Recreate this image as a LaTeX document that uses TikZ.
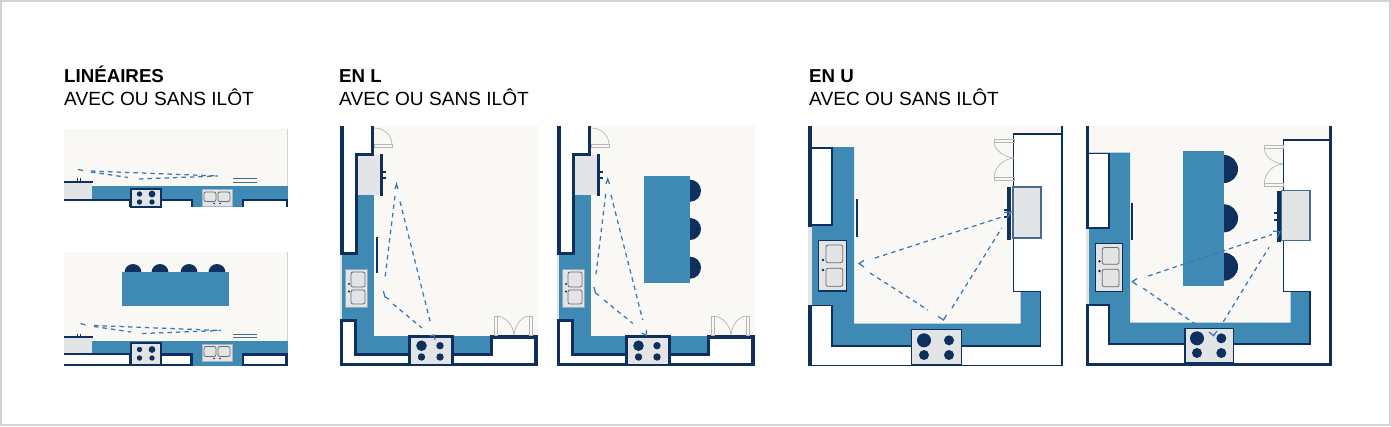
\documentclass[tikz,border=0pt]{standalone}
\usepackage{fontspec}
\setmainfont{Liberation Sans}
\definecolor{cream}{HTML}{F9F8F5}
\definecolor{cblue}{HTML}{3F8AB5}
\definecolor{navy}{HTML}{0F2F5C}
\definecolor{steel}{HTML}{4A6A8C}
\definecolor{appl}{HTML}{E3E4E6}
\definecolor{dashc}{HTML}{3C78B0}
\definecolor{doorc}{HTML}{B4B6B8}
\definecolor{frame}{HTML}{D2D2D2}
\tikzset{
  wall/.style={draw=navy,line width=#1,line cap=butt,line join=miter},
  wall/.default=2.5,
  counter/.style={fill=cblue,draw=none},
  floorarea/.style={fill=cream,draw=none},
  cab/.style={fill=white,draw=none},
  appliance/.style={fill=appl,draw=navy,line width=2.2},
  appliancethin/.style={fill=appl,draw=navy,line width=1.4},
  sinkbox/.style={fill=appl,draw=navy,line width=1.4},
  basin/.style={fill=appl,draw=gray!85!black,line width=.8,rounded corners=2},
  burner/.style={fill=navy,draw=none},
  walk/.style={draw=dashc,line width=1.25,dash pattern=on 4.5pt off 4pt},
  vhead/.style={draw=dashc,line width=1.25,line join=miter},
  door/.style={draw=doorc,line width=.7},
  stool/.style={fill=navy,draw=none},
  head/.style={anchor=base west,inner sep=0,font=\fontsize{18.7}{20}\selectfont\bfseries},
  sub/.style={anchor=base west,inner sep=0,font=\fontsize{19.1}{20}\selectfont},
}
\begin{document}
\begin{tikzpicture}[x=1pt,y=-1pt]
\useasboundingbox (0,0) rectangle (1391,426);
\fill[white] (0,0) rectangle (1391,426);
\draw[frame,line width=2] (1,1) rectangle (1390,425);
% titles
\node[head] (t1) at (64,82) {LINÉAIRES};
\node[sub] (s1) at (64,105) {AVEC OU SANS ILÔT};
\node[head] (t2) at (339,82) {EN L};
\node[sub] (s2) at (339,105) {AVEC OU SANS ILÔT};
\node[head] (t3) at (809,82) {EN U};
\node[sub] (s3) at (809,105) {AVEC OU SANS ILÔT};

% ===== Panel A =====
\fill[floorarea] (64,129) rectangle (287.5,186);
\draw[doorc!60,line width=.6] (287.5,129) -- (287.5,186);
\fill[counter] (64,185.5) rectangle (287.5,207);
\fill[appl] (64,183) rectangle (92,199);
\fill[cab] (64,200) rectangle (131,207);
\draw[wall=2] (64,199.5) -- (130,199.5) -- (130,207);
\draw[wall=2] (64,181.5) -- (93,181.5);
\draw[wall=.9] (77,178) -- (77,181) (80,178) -- (80,181);
\fill[cab] (162,200) rectangle (192,207);
\draw[wall=2] (162,199.5) -- (191.5,199.5) -- (191.5,207);
\fill[cab] (243,200) rectangle (287,207);
\draw[wall=2] (243,207) -- (243,200) -- (286.5,200) -- (286.5,207);
\draw[appliance] (131,189) rectangle (161,207);
\foreach \p/\r in {139.5/2.7,152/3.4} \fill[burner] (\p,194) circle [radius=\r];
\foreach \p in {139.5,152} \fill[burner] (\p,202) circle [radius=2.7];
\fill[appl,draw=steel!50,line width=.6] (202,189) rectangle (232,206);
\draw[basin] (204,192) rectangle (216,201.5);
\draw[basin] (218,192) rectangle (230,201.5);
\fill[navy] (214,203.5) circle [radius=.9] (220,203.5) circle [radius=.9];
\draw[steel,line width=1] (233,178.7) -- (257,178.7) (233,182.2) -- (257,182.2);
\draw[vhead] (78,169.5) -- (83,170.5);
\draw[walk] (91,171) -- (218,176);
\draw[walk] (91,172) -- (128,177.5);
\draw[walk] (139,179) -- (218,176);

% ===== Panel B =====
\fill[floorarea] (64,252) rectangle (287.5,342);
\draw[doorc!60,line width=.6] (287.5,252) -- (287.5,342);
\foreach \p in {133,160,189,217} \fill[stool] (\p,272.5) circle [radius=8.5];
\fill[counter] (122,272) rectangle (228.5,306);
\fill[counter] (64,340.7) rectangle (287.5,366);
\fill[appl] (64,338) rectangle (92,353);
\fill[cab] (64,354) rectangle (131,365);
\draw[wall=2.4] (64,354) -- (130,354) -- (130,365) -- (64,365);
\draw[wall=2] (64,336.5) -- (93,336.5);
\draw[wall=.9] (77,334) -- (77,336) (80,334) -- (80,336);
\fill[cab] (162,355) rectangle (192,365);
\draw[wall=2.4] (162,354.5) -- (191.5,354.5) -- (191.5,365) -- (162,365);
\fill[cab] (243,355) rectangle (287,365);
\draw[wall=2.4] (243,354.5) rectangle (286.5,365);
\draw[appliance] (131,343) rectangle (161,365);
\foreach \p/\r in {139.5/2.7,152/3.4} \fill[burner] (\p,349.5) circle [radius=\r];
\foreach \p in {139.5,152} \fill[burner] (\p,358) circle [radius=2.7];
\fill[appl,draw=steel!50,line width=.6] (202,344) rectangle (232,361);
\draw[basin] (204,346.5) rectangle (216,356.5);
\draw[basin] (218,346.5) rectangle (230,356.5);
\fill[navy] (214,358.5) circle [radius=.9] (220,358.5) circle [radius=.9];
\draw[steel,line width=1] (233,334) -- (257,334) (233,337.5) -- (257,337.5);
\draw[vhead] (80.5,323.5) -- (85.5,325);
\draw[walk] (94,325.5) -- (221,330.5);
\draw[walk] (94,326.5) -- (131,332);
\draw[walk] (142,333.5) -- (221,330.5);

% ===== Panel C and D share walls =====
\foreach \dx/\num in {0/1,217/2}{
\begin{scope}[shift={(\dx,0)}]
  \fill[floorarea] (340,126) rectangle (538,365);
  \fill[cab] (342,126) rectangle (372,153);
  \fill[cab] (342,153) rectangle (356,253);
  \fill[counter] (341.5,252) rectangle (374,336);
  \fill[counter] (358,195) rectangle (374,253);
  \fill[counter] (356,335.7) rectangle (491.5,354);
  \fill[appl] (340,253) rectangle (341.5,320);
  \fill[cab] (342,320) rectangle (356,365);
  \fill[cab] (356,355) rectangle (536,365);
  \fill[cab] (491.5,336.5) rectangle (536,355);
  \fill[appl] (358,155) rectangle (381,195);
  \draw[wall=3.5] (342,126) -- (342,254.5);
  \draw[wall=3] (342,253.5) -- (357.5,253.5);
  \draw[wall=3] (372.5,126) -- (372.5,154) -- (356.7,154) -- (356.7,254);
  \draw[wall=3] (381.7,154) -- (381.7,196);
  \draw[wall=1.5] (383,172) -- (386,172) (383,178) -- (386,178);
  \draw[wall=3.2] (341.5,320.5) -- (355.5,320.5) -- (355.5,354.5) -- (409,354.5);
  \draw[wall=3.2] (341.5,319) -- (341.5,364.5) -- (536,364.5) -- (536,337) -- (491.5,337) -- (491.5,354.5) -- (452,354.5);
  \draw[appliance,line width=2.6] (409.5,336.5) rectangle (452.5,365);
  \fill[burner] (421.5,345.7) circle [radius=5.3];
  \fill[burner] (440,345.7) circle [radius=3.7];
  \fill[burner] (421.5,357) circle [radius=3.7];
  \fill[burner] (440,357) circle [radius=3.7];
  \draw[sinkbox,draw=steel!60,line width=.8] (345.7,269) rectangle (367.7,307);
  \draw[basin] (351,272) rectangle (365,287);
  \draw[basin] (351,290) rectangle (365,304);
  \fill[navy] (349,284) circle [radius=1.1] (349,291.5) circle [radius=1.1];
  % doors
  \draw[door] (374,128) .. controls (384,128) and (392,135) .. (392,145);
  \draw[door] (374,144) rectangle (392,147);
  \draw[door] (494,316) rectangle (497,335);
  \draw[door] (529,316) rectangle (532,335);
  \draw[door] (497,316) .. controls (506,317) and (513,325) .. (514,335);
  \draw[door] (529,316) .. controls (521,317) and (515,325) .. (514,335);
\end{scope}}
% Panel C extras
\draw[wall=2] (376.7,237) -- (376.7,273);
\draw[vhead] (395,189) -- (396.5,184) -- (398,189);
\draw[walk] (395,196) -- (385,278);
\draw[walk] (400,201.5) -- (431,325);
\draw[vhead] (383.3,291) -- (385,297) -- (389,299);
\draw[walk] (393,304) -- (422,328);
\draw[vhead] (430,336) -- (434,335) -- (435,340);
% Panel D extras
\fill[stool] (690,190.7) circle [radius=11];
\fill[stool] (690,229) circle [radius=11];
\fill[stool] (690,267.7) circle [radius=11];
\fill[counter] (644,176) rectangle (690,282.7);
\draw[vhead] (606,184) -- (607.7,179) -- (609.5,184);
\draw[walk] (605.7,194) -- (596,274);
\draw[walk] (611,195) -- (642.7,320);
\draw[vhead] (594,287) -- (595.5,293) -- (599,295.5);
\draw[walk] (604,300) -- (632.7,323.3);
\draw[vhead] (642,333) -- (646,335.5) -- (646.5,330);

% ===== Panel E =====
\fill[floorarea] (808,126) rectangle (1062,365);
\fill[cab] (812,346) rectangle (1061,365);
\fill[cab] (812,305) rectangle (832,346);
\fill[cab] (1014,134) rectangle (1061,292);
\fill[cab] (1041,292) rectangle (1061,346);
\fill[counter] (812,147) -- (854,147) -- (854,323.7) -- (1020.7,323.7) -- (1020.7,291.7) -- (1040.7,291.7) -- (1040.7,346) -- (832,346) -- (832,305.7) -- (808,305.7) -- (808,227) -- (812,227) -- cycle;
\fill[appl] (808,227) rectangle (812,305);
\fill[cab] (812,148) rectangle (832,225);
\draw[wall=1.4] (812,148) -- (832,148) -- (832,225) -- (812,225);
\draw[wall=4] (810,126) -- (810,227);
\draw[wall=4] (810,305) -- (810,366);
\draw[wall=1.4] (808,305.5) -- (832,305.5) -- (832,346) -- (1040.7,346) -- (1040.7,291.7) -- (1013.5,291.7) -- (1013.5,134) -- (1061.5,134);
\draw[wall=1.6] (1061.7,126) -- (1061.7,365.5) -- (808,365.5);
\draw[fill=appl,draw=steel,line width=1.2] (1013,187) rectangle (1041,238);
\draw[wall=4] (1009,186.7) -- (1009,240);
\draw[wall=1.6] (1004,210) -- (1008,210) (1004,217) -- (1008,217);
\draw[wall=2] (857.3,199) -- (857.3,237);
\draw[sinkbox] (818.3,240.7) rectangle (846.7,291);
\draw[basin] (826,245) rectangle (842.7,262.7);
\draw[basin] (826,268.3) rectangle (842.7,286.3);
\fill[navy] (823,260) circle [radius=1.3] (823,270) circle [radius=1.3];
\draw[appliancethin] (911.7,329.3) rectangle (961.3,365);
\fill[burner] (924,340.3) circle [radius=7];
\fill[burner] (949,340.3) circle [radius=5];
\fill[burner] (924,355) circle [radius=5];
\fill[burner] (949,355) circle [radius=5];
\draw[door] (994,139) rectangle (1014,142);
\draw[door] (994,177) rectangle (1014,180);
\draw[door] (994,142) .. controls (995,151) and (1004,157) .. (1014,158);
\draw[door] (994,177) .. controls (995,166) and (1004,159) .. (1014,158);
\draw[vhead] (864,260.5) -- (859,263.5) -- (864,267);
\draw[walk] (875,258) -- (1003,216.7);
\draw[walk] (870,273) -- (928,310);
\draw[vhead] (938,316.5) -- (943.5,320) -- (946.5,315);
\draw[walk] (952,308) -- (1001.7,228);
\draw[vhead] (1004,212.5) -- (1011,212) -- (1007,218);

% ===== Panel F =====
\fill[floorarea] (1086,126) rectangle (1331,365);
\fill[cab] (1089,344) rectangle (1330,365);
\fill[cab] (1089,305) rectangle (1109,344);
\fill[cab] (1283.3,140) rectangle (1330,292);
\fill[cab] (1310,292) rectangle (1330,344);
\fill[counter] (1089,152.7) -- (1130,152.7) -- (1130,322.7) -- (1290.7,322.7) -- (1290.7,291.7) -- (1310,291.7) -- (1310,344) -- (1109,344) -- (1109,305) -- (1087,305) -- (1087,228) -- (1089,228) -- cycle;
\fill[appl] (1086,228) rectangle (1089,305);
\fill[cab] (1089,153.3) rectangle (1109,228);
\draw[wall=1.4] (1089,153.3) -- (1109,153.3) -- (1109,228) -- (1087,228);
\draw[wall=3.5] (1087.5,126) -- (1087.5,229);
\fill[stool] (1224,169) circle [radius=14];
\fill[stool] (1224,218.3) circle [radius=14];
\fill[stool] (1224,266.7) circle [radius=14];
\fill[counter] (1183.3,150.7) rectangle (1224.3,286);
\draw[wall=3] (1087.5,305) -- (1087.5,365.5);
\draw[wall=1.4] (1086,305) -- (1109,305) -- (1109,344) -- (1310,344) -- (1310,291.7) -- (1283.3,291.7) -- (1283.3,140) -- (1330,140);
\draw[wall=2.6] (1330.7,126) -- (1330.7,364.3) -- (1086,364.3);
\draw[fill=appl,draw=steel,line width=1.2] (1281.7,190.7) rectangle (1310,240.7);
\draw[wall=3.5] (1279,190.7) -- (1279,241.7);
\draw[wall=1.6] (1274,212.7) -- (1277,212.7) (1274,220) -- (1277,220);
\draw[wall=2] (1132.3,202.7) -- (1132.3,240);
\draw[sinkbox] (1095.7,243.3) rectangle (1122.7,291.7);
\draw[basin] (1102.3,247.5) rectangle (1119,264.3);
\draw[basin] (1102.3,269.3) rectangle (1119,286.7);
\fill[navy] (1099.5,261.3) circle [radius=1.3] (1099.5,271) circle [radius=1.3];
\draw[appliancethin] (1185,328.3) rectangle (1233.3,362.7);
\fill[burner] (1197,338.3) circle [radius=7];
\fill[burner] (1221.3,338.3) circle [radius=5];
\fill[burner] (1197,353) circle [radius=5];
\fill[burner] (1221.3,353) circle [radius=5];
\draw[door] (1264.3,145.7) rectangle (1283,148.5);
\draw[door] (1264.3,183.3) rectangle (1283,186);
\draw[door] (1264.3,148.5) .. controls (1265,157) and (1273,163) .. (1283,164);
\draw[door] (1264.3,183.3) .. controls (1265,172) and (1273,165) .. (1283,164);
\draw[vhead] (1137,278.5) -- (1132.3,281.7) -- (1137,285);
\draw[walk] (1148.3,276) -- (1272,234.5);
\draw[walk] (1143.3,288.3) -- (1196.7,325);
\draw[vhead] (1209,332) -- (1213.5,335.7) -- (1217,331);
\draw[walk] (1223.3,321.7) -- (1269,247.3);
\draw[vhead] (1273,231) -- (1280,232) -- (1277,238);
\end{tikzpicture}
\end{document}
